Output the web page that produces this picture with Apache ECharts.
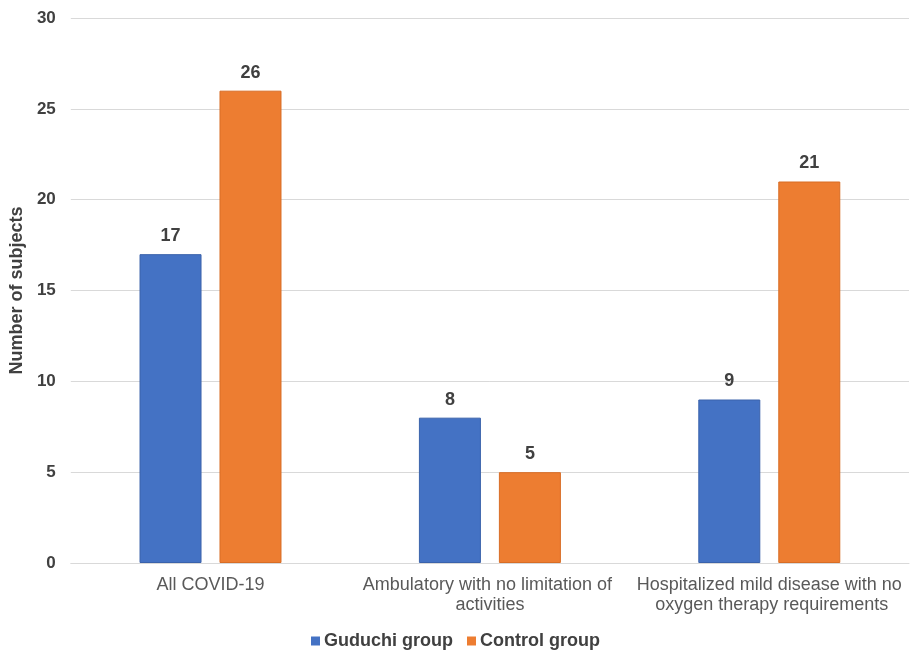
<!DOCTYPE html>
<html>
<head>
<meta charset="utf-8">
<style>
  html, body { margin: 0; padding: 0; background: #fff; }
  #chart { width: 911px; height: 653px; }
</style>
<script src="https://cdn.jsdelivr.net/npm/echarts@6/dist/echarts.min.js"></script>
</head>
<body>
<div id="chart"></div>
<script>
const categories = [
  'All COVID-19',
  'Ambulatory with no limitation of activities',
  'Hospitalized mild disease with no oxygen therapy requirements'
];
const guduchiValues = [17, 8, 9];
const controlValues = [26, 5, 21];
const seriesNames = ['Guduchi group', 'Control group'];
const yTicks = { min: 0, max: 30, interval: 5 };

const FONT = '"Liberation Sans", Arial, sans-serif';
const chart = echarts.init(document.getElementById('chart'));

const labelStyle = {
  show: true,
  position: 'top',
  distance: 9,
  fontFamily: FONT,
  fontWeight: 'bold',
  fontSize: 18,
  color: '#404040'
};

chart.setOption({
  animation: false,
  textStyle: { fontFamily: FONT },
  grid: { left: 69, right: 2, top: 18, bottom: 90 },
  legend: {
    top: 627,
    left: 'center',
    itemWidth: 9,
    itemHeight: 9,
    itemGap: 14,
    icon: 'rect',
    itemStyle: { borderWidth: 0 },
    textStyle: { fontFamily: FONT, fontWeight: 'bold', fontSize: 18, color: '#404040', padding: [0, 0, 0, -1] },
    data: seriesNames
  },
  xAxis: {
    type: 'category',
    data: categories,
    axisTick: { show: false },
    axisLine: { lineStyle: { color: '#d9d9d9', width: 1 } },
    axisLabel: {
      interval: 0,
      margin: 12,
      fontFamily: FONT,
      fontSize: 18,
      lineHeight: 20,
      color: '#595959',
      width: 270,
      overflow: 'break'
    }
  },
  yAxis: {
    type: 'value',
    min: yTicks.min,
    max: yTicks.max,
    interval: yTicks.interval,
    name: 'Number of subjects',
    nameLocation: 'middle',
    nameRotate: 90,
    nameGap: 41,
    nameTextStyle: { fontFamily: FONT, fontWeight: 'bold', fontSize: 18, color: '#404040' },
    axisLine: { show: false },
    axisTick: { show: false },
    axisLabel: { margin: 15, fontFamily: FONT, fontWeight: 'bold', fontSize: 17, color: '#404040' },
    splitLine: { lineStyle: { color: '#d9d9d9', width: 1 } }
  },
  series: [
    {
      name: seriesNames[0],
      type: 'bar',
      data: guduchiValues,
      barWidth: 62,
      barGap: '29%',
      itemStyle: { color: '#4472C4', borderColor: '#3a62ab', borderWidth: 1 },
      label: labelStyle
    },
    {
      name: seriesNames[1],
      type: 'bar',
      data: controlValues,
      barWidth: 62,
      barGap: '29%',
      itemStyle: { color: '#ED7D31', borderColor: '#d86d25', borderWidth: 1 },
      label: labelStyle
    }
  ]
});
</script>
</body>
</html>
